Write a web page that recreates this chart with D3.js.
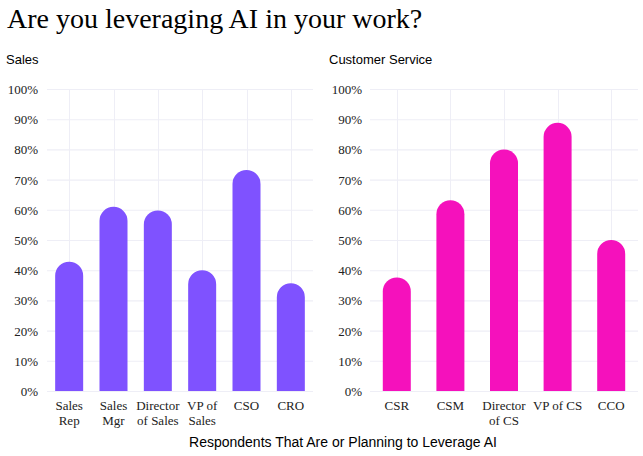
<!DOCTYPE html>
<html>
<head>
<meta charset="utf-8">
<script src="https://cdn.jsdelivr.net/npm/d3@7"></script>
<style>
  html, body { margin: 0; padding: 0; background: #fff; }
  svg { display: block; }
</style>
</head>
<body>
<svg id="chart" width="643" height="456"></svg>
<script>
const title = "Are you leveraging AI in your work?";
const xAxisTitle = "Respondents That Are or Planning to Leverage AI";

const salesTitle = "Sales";
const salesCategories = ["Sales\nRep", "Sales\nMgr", "Director\nof Sales", "VP of\nSales", "CSO", "CRO"];
const salesValues = [0.428, 0.61, 0.598, 0.40, 0.732, 0.357];

const csTitle = "Customer Service";
const csCategories = ["CSR", "CSM", "Director\nof CS", "VP of CS", "CCO"];
const csValues = [0.376, 0.632, 0.80, 0.888, 0.50];

const yTicks = [0, 0.1, 0.2, 0.3, 0.4, 0.5, 0.6, 0.7, 0.8, 0.9, 1.0];

const svg = d3.select("#chart");
const serif = "'Liberation Serif', 'Times New Roman', serif";
const sans = "'Liberation Sans', Arial, Helvetica, sans-serif";

svg.append("text")
  .attr("x", 7).attr("y", 28)
  .attr("font-family", serif).attr("font-size", 28)
  .attr("fill", "#000")
  .text(title);

const yTop = 89, yBottom = 391;
const y = d3.scaleLinear().domain([0, 1]).range([yBottom, yTop]);

function panel(opts) {
  const { cats, vals, color, x0, x1, labelX, labelRight, name } = opts;
  const g = svg.append("g");
  const x = d3.scalePoint().domain(cats).range([x0, x1]).padding(0.5);
  const barW = 28, r = barW / 2;

  // panel title
  g.append("text").attr("x", labelX).attr("y", 64)
    .attr("font-family", sans).attr("font-size", 13).attr("fill", "#000")
    .text(name);

  // horizontal gridlines
  g.append("g").selectAll("line").data(yTicks).join("line")
    .attr("x1", x0).attr("x2", x1)
    .attr("y1", d => y(d) + 0.5).attr("y2", d => y(d) + 0.5)
    .attr("stroke", "#EEEEF6").attr("stroke-width", 1.1);
  // vertical gridlines
  g.append("g").selectAll("line").data(cats).join("line")
    .attr("x1", d => Math.round(x(d)) + 0.5).attr("x2", d => Math.round(x(d)) + 0.5)
    .attr("y1", yTop).attr("y2", yBottom)
    .attr("stroke", "#EEEEF6").attr("stroke-width", 1.1);

  // y axis labels
  const yAxis = d3.axisLeft(y).tickValues(yTicks).tickFormat(d3.format(".0%")).tickSize(0).tickPadding(0);
  const ya = g.append("g").attr("transform", `translate(${labelRight},0)`).call(yAxis);
  ya.select(".domain").remove();
  ya.selectAll("text").attr("font-family", serif).attr("font-size", 13).attr("fill", "#222").attr("dy", "0.35em");

  // bars with rounded tops
  g.append("g").selectAll("path").data(vals).join("path")
    .attr("fill", color)
    .attr("d", (v, i) => {
      const cx = x(cats[i]);
      const left = cx - r, right = cx + r;
      const top = y(v);
      const bottom = y(0);
      return `M${left},${bottom} L${left},${top + r} A${r},${r} 0 0 1 ${right},${top + r} L${right},${bottom} Z`;
    });

  // x labels
  const xl = g.append("g").selectAll("text").data(cats).join("text")
    .attr("x", d => x(d)).attr("y", 410)
    .attr("text-anchor", "middle")
    .attr("font-family", serif).attr("font-size", 13).attr("fill", "#222");
  xl.each(function(d) {
    const lines = d.split("\n");
    d3.select(this).selectAll("tspan").data(lines).join("tspan")
      .attr("x", x(d)).attr("dy", (l, j) => j === 0 ? 0 : 15)
      .text(l => l);
  });
}

panel({ cats: salesCategories, vals: salesValues, color: "#7F52FF", x0: 47, x1: 313, labelX: 6, labelRight: 38, name: salesTitle });
panel({ cats: csCategories, vals: csValues, color: "#F511BC", x0: 370, x1: 638, labelX: 329, labelRight: 362, name: csTitle });

svg.append("text")
  .attr("x", 343).attr("y", 447)
  .attr("text-anchor", "middle")
  .attr("font-family", sans).attr("font-size", 14).attr("fill", "#000")
  .text(xAxisTitle);
</script>
</body>
</html>
